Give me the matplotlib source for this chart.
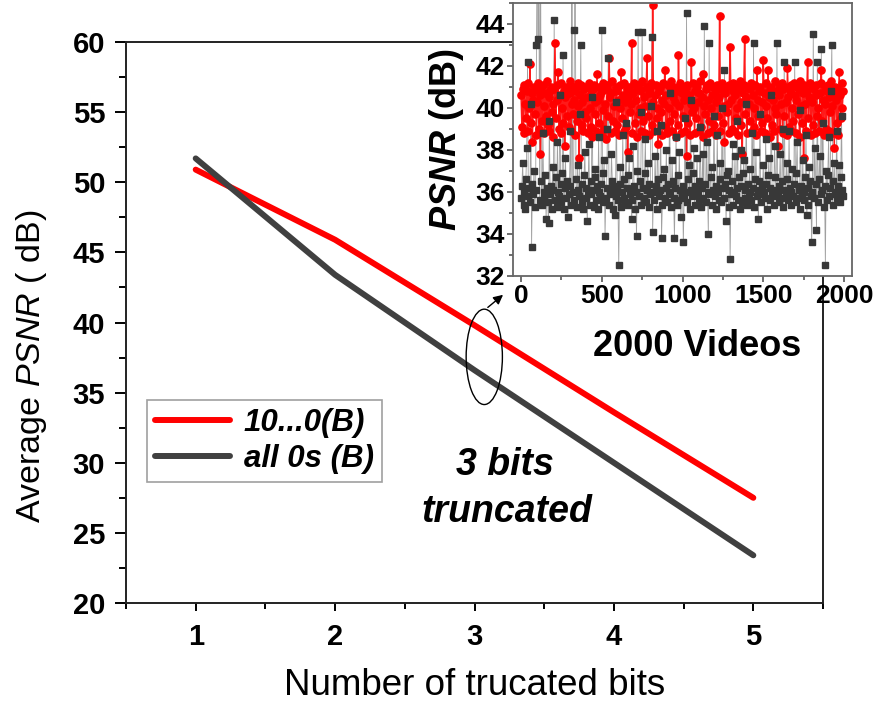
import matplotlib
matplotlib.use("Agg")
import matplotlib.pyplot as plt
from matplotlib.patches import Ellipse
from matplotlib.ticker import MultipleLocator
import numpy as np

plt.rcParams['font.family'] = ['Liberation Sans', 'DejaVu Sans']
plt.rcParams['mathtext.fontset'] = 'custom'
plt.rcParams['mathtext.rm'] = 'Liberation Sans'
plt.rcParams['mathtext.it'] = 'Liberation Sans:italic'
plt.rcParams['mathtext.bf'] = 'Liberation Sans:bold'
plt.rcParams['mathtext.bfit'] = 'Liberation Sans:bold:italic'

# ---- main chart data ----
bits = [1, 2, 3, 4, 5]
psnr_10_0 = [50.9, 45.9, 39.8, 33.6, 27.5]
psnr_all0 = [51.7, 43.4, 36.6, 30.0, 23.4]
labels = ['10...0(B)', 'all 0s (B)']

# ---- inset data (every 5th video) ----
video_step = 5
inset_red = [
    40.6, 39.1, 40.9, 38.8, 41.1, 40.2, 39.5, 40.8, 38.9, 41.2, 40.0, 42.1, 39.3, 40.7, 38.4, 40.4, 41.0, 39.7, 40.9, 38.7,
    40.3, 41.2, 39.0, 40.6, 37.8, 40.9, 39.4, 41.1, 40.1, 38.8, 40.7, 39.6, 41.3, 39.2, 40.5, 38.9, 40.8, 41.0, 39.8, 40.2,
    38.6, 40.9, 43.1, 39.5, 40.4, 41.1, 41.7, 39.0, 40.6, 38.8, 41.2, 40.0, 39.3, 40.8, 38.2, 40.5, 41.0, 39.6, 40.9, 39.1,
    40.7, 41.3, 38.9, 40.2, 39.7, 41.0, 40.4, 38.7, 40.8, 39.4, 41.2, 40.1, 37.6, 40.6, 41.1, 39.2, 40.3, 38.9, 40.9, 39.8,
    41.0, 39.5, 40.5, 38.8, 41.2, 40.0, 39.1, 40.7, 38.6, 40.9, 41.1, 39.7, 40.3, 38.9, 41.6, 40.4, 39.3, 41.0, 40.6, 38.7,
    40.8, 39.9, 41.2, 39.0, 40.2, 38.5, 40.9, 41.1, 39.6, 42.4, 40.5, 38.8, 40.7, 41.3, 39.4, 40.1, 38.9, 40.8, 41.0, 39.2,
    40.4, 38.7, 41.1, 40.0, 41.7, 39.5, 40.6, 38.9, 41.2, 40.3, 39.1, 40.9, 37.9, 40.5, 41.0, 39.8, 40.2, 43.1, 38.8, 40.7,
    41.2, 39.3, 40.4, 38.6, 40.9, 41.1, 39.7, 40.0, 38.9, 40.8, 41.3, 39.4, 40.5, 38.8, 40.1, 41.0, 42.4, 39.6, 40.7, 38.7,
    40.9, 41.2, 39.2, 44.9, 40.3, 38.9, 40.6, 41.1, 39.5, 40.0, 38.3, 40.8, 41.0, 39.8, 40.4, 38.7, 41.2, 40.2, 41.8, 39.1,
    40.6, 38.8, 41.1, 40.0, 39.4, 40.9, 41.3, 38.9, 40.5, 39.7, 41.0, 40.3, 38.6, 40.8, 39.2, 42.5, 40.1, 41.2, 38.8, 40.7,
    39.6, 41.0, 40.4, 38.9, 40.9, 37.7, 41.1, 39.3, 40.6, 38.7, 40.2, 42.2, 39.8, 41.2, 40.0, 38.8, 40.8, 39.5, 41.0, 40.3,
    38.9, 40.7, 41.3, 39.1, 40.5, 38.6, 41.6, 40.1, 39.7, 40.9, 41.1, 38.8, 40.4, 39.4, 41.2, 40.0, 38.9, 40.6, 41.0, 39.2,
    40.8, 38.7, 40.3, 41.1, 39.6, 40.5, 44.4, 38.9, 40.9, 41.2, 39.3, 40.1, 38.4, 40.7, 41.0, 39.8, 40.2, 38.8, 41.1, 42.9,
    40.4, 39.0, 40.8, 41.2, 38.9, 40.6, 39.5, 41.0, 40.0, 38.7, 40.9, 41.3, 39.2, 40.3, 37.8, 40.7, 41.1, 43.3, 39.7, 40.5,
    38.8, 41.0, 40.2, 39.4, 40.9, 41.2, 38.9, 40.6, 39.1, 40.0, 41.1, 38.7, 41.8, 40.4, 39.6, 40.8, 41.0, 38.9, 40.3, 39.3,
    42.3, 40.7, 38.8, 41.2, 40.1, 39.5, 41.8, 40.5, 38.6, 40.9, 41.0, 39.2, 40.4, 38.9, 41.3, 40.0, 39.7, 40.8, 38.2, 41.1,
    40.6, 39.0, 40.2, 41.2, 38.8, 40.9, 39.6, 41.0, 40.3, 38.7, 41.9, 40.5, 39.1, 40.8, 41.1, 38.9, 40.0, 39.4, 41.2, 40.6,
    38.8, 40.4, 41.0, 39.7, 40.9, 38.6, 41.3, 40.1, 39.3, 40.7, 37.6, 41.1, 40.2, 38.9, 40.8, 42.2, 39.5, 40.5, 41.2, 38.7,
    40.3, 41.0, 39.2, 40.9, 38.8, 40.6, 41.1, 39.6, 40.0, 38.9, 40.7, 41.2, 41.8, 39.4, 40.4, 38.7, 41.0, 40.2, 39.0, 40.8,
    41.1, 38.9, 40.5, 39.8, 41.3, 40.1, 38.8, 40.7, 38.1, 41.0, 40.4, 39.3, 40.9, 38.7, 41.7, 40.6, 39.5, 41.2, 40.0, 40.8,
]
inset_dark = [
    35.7, 36.3, 37.4, 35.4, 36.0, 35.2, 36.6, 38.1, 42.2, 35.8, 36.2, 35.5, 40.2, 33.4, 36.4, 35.9, 37.0, 35.3, 36.1, 43.0,
    48.0, 43.3, 47.0, 35.6, 50.0, 36.5, 35.4, 38.8, 36.0, 35.7, 36.8, 34.7, 36.2, 35.5, 34.5, 39.4, 35.9, 36.3, 35.2, 37.2,
    36.1, 44.2, 35.6, 36.7, 35.3, 38.4, 36.0, 35.8, 40.6, 36.4, 35.5, 36.9, 42.5, 35.2, 36.2, 37.6, 35.7, 36.5, 34.8, 35.9,
    36.3, 38.9, 35.4, 46.0, 36.0, 35.6, 43.7, 49.0, 36.6, 35.3, 37.3, 36.1, 35.8, 39.7, 43.0, 35.5, 36.4, 35.2, 36.8, 37.9,
    35.7, 36.2, 34.6, 36.0, 38.3, 35.4, 36.5, 35.9, 40.5, 36.1, 35.3, 36.7, 37.1, 35.6, 36.3, 35.2, 38.6, 36.0, 35.8, 36.4,
    43.7, 35.5, 36.9, 37.5, 33.9, 35.7, 36.2, 39.0, 42.4, 35.4, 36.0, 35.9, 37.8, 36.5, 35.2, 36.3, 34.9, 35.8, 40.3, 36.1,
    35.6, 32.5, 36.4, 37.2, 35.3, 36.0, 38.7, 35.7, 36.6, 35.5, 39.3, 36.2, 35.4, 36.8, 37.6, 35.9, 36.1, 34.7, 35.6, 38.2,
    36.3, 35.2, 36.0, 33.9, 37.0, 43.6, 35.8, 36.5, 35.4, 39.8, 43.6, 36.2, 35.7, 36.9, 38.5, 35.5, 36.1, 37.4, 35.3, 36.4,
    35.9, 40.1, 43.4, 34.1, 36.0, 35.6, 37.7, 36.3, 35.2, 38.9, 36.6, 35.8, 36.1, 39.2, 33.8, 35.4, 36.7, 37.1, 35.7, 36.2,
    38.0, 35.5, 36.4, 35.9, 40.7, 36.0, 35.3, 37.5, 36.5, 35.7, 33.8, 36.2, 38.6, 35.4, 36.8, 35.6, 37.9, 36.1, 34.8, 35.8,
    36.3, 33.6, 35.7, 39.5, 36.0, 44.5, 35.5, 36.6, 37.3, 35.2, 40.4, 36.1, 35.8, 36.9, 38.1, 35.4, 36.3, 35.9, 37.6, 36.0,
    35.6, 36.5, 39.1, 35.3, 36.2, 37.8, 35.7, 43.9, 36.4, 35.5, 38.4, 36.0, 34.0, 43.1, 35.9, 36.7, 37.2, 35.4, 36.1, 39.6,
    35.8, 36.3, 35.2, 38.7, 36.0, 35.6, 37.4, 36.6, 35.5, 40.0, 36.2, 35.7, 41.8, 36.4, 34.6, 36.8, 37.0, 35.3, 36.1, 32.8,
    35.9, 36.5, 38.3, 35.4, 36.0, 37.7, 35.8, 36.2, 39.4, 35.6, 36.7, 35.2, 38.0, 36.3, 35.5, 36.9, 37.5, 35.7, 36.1, 40.2,
    35.4, 36.4, 35.9, 37.1, 36.0, 35.6, 38.8, 36.2, 43.1, 35.3, 36.6, 37.9, 35.8, 36.1, 34.7, 36.5, 39.7, 35.5, 36.3, 35.9,
    37.3, 36.0, 35.7, 38.5, 36.4, 35.2, 36.8, 37.6, 35.6, 36.2, 40.6, 35.9, 36.1, 35.4, 38.2, 36.7, 35.8, 43.1, 36.0, 35.5,
    36.3, 37.8, 35.7, 36.5, 39.0, 35.3, 42.2, 36.1, 35.9, 37.4, 36.6, 35.6, 38.9, 36.2, 35.4, 36.0, 37.1, 35.8, 36.4, 42.2,
    35.5, 36.9, 38.4, 35.7, 36.1, 35.2, 39.9, 36.3, 35.9, 37.5, 36.0, 35.6, 36.7, 38.7, 34.9, 36.2, 35.4, 37.2, 36.5, 35.8,
    33.6, 36.0, 43.5, 35.7, 38.1, 36.4, 34.2, 42.2, 35.5, 36.6, 37.7, 35.9, 42.8, 36.1, 39.3, 35.3, 36.3, 32.5, 37.0, 35.6,
    36.8, 38.6, 35.8, 36.2, 40.8, 43.0, 35.4, 36.5, 37.4, 35.9, 36.0, 38.9, 35.7, 36.3, 37.3, 35.5, 36.7, 39.6, 36.1, 35.8,
]
videos = np.arange(len(inset_red)) * video_step

RED = '#ff0000'
DARK = '#404040'

fig = plt.figure(figsize=(8.78, 7.06), dpi=100)
ax = fig.add_axes([0.1435, 0.1459, 0.7939, 0.7946])

ax.plot(bits, psnr_10_0, color=RED, lw=4.3, solid_capstyle='round', label=labels[0], zorder=3)
ax.plot(bits, psnr_all0, color=DARK, lw=4.3, solid_capstyle='round', label=labels[1], zorder=3)

ax.set_xlim(0.5, 5.5)
ax.set_ylim(20, 60)
ax.xaxis.set_major_locator(MultipleLocator(1))
ax.xaxis.set_minor_locator(MultipleLocator(0.5))
ax.yaxis.set_major_locator(MultipleLocator(5))
ax.yaxis.set_minor_locator(MultipleLocator(2.5))
ax.tick_params(which='major', direction='out', length=8, width=1.4, labelsize=21, pad=7)
ax.tick_params(which='minor', direction='out', length=5, width=1.4)
ax.tick_params(axis='x', which='major', length=5.5, pad=9)
ax.tick_params(axis='x', which='minor', length=4)
for lab in ax.get_xticklabels() + ax.get_yticklabels():
    lab.set_fontweight('bold')
for s in ax.spines.values():
    s.set_linewidth(1.4)
    s.set_color('#222222')

ax.set_xlabel('Number of trucated bits', fontsize=26.5)
ax.set_ylabel(r'Average $\mathit{PSNR}$ ( dB)', fontsize=24.5)
ax.xaxis.set_label_coords(0.5, -0.115)
ax.yaxis.set_label_coords(-0.11, 0.4225)

leg = ax.legend(loc='upper left', bbox_to_anchor=(147/878, 1-400/706), bbox_transform=fig.transFigure,
                borderaxespad=0, frameon=True, fancybox=False, handlelength=2.4, handletextpad=0.45,
                borderpad=0.25, labelspacing=0.2,
                prop={'size': 22.5, 'weight': 'bold', 'style': 'italic'})
leg.get_frame().set_edgecolor('#888888')
leg.get_frame().set_linewidth(1.2)

ax.text(3.22, 29.85, '3 bits', fontsize=27, fontweight='bold', fontstyle='italic', ha='center', va='center')
ax.text(3.23, 26.5, 'truncated', fontsize=27, fontweight='bold', fontstyle='italic', ha='center', va='center')
ax.text(4.60, 38.3, '2000 Videos', fontsize=26, fontweight='bold', ha='center', va='center')

ell = Ellipse((3.07, 37.55), 0.26, 6.8, fill=False, edgecolor='black', lw=1.0, zorder=4)
ax.add_patch(ell)
ax.annotate('', xy=(3.22, 42.1), xytext=(3.08, 40.95),
            arrowprops=dict(arrowstyle='-|>', color='black', lw=1.0, mutation_scale=14), zorder=5)

# ---- inset ----
ins = fig.add_axes([0.5843, 0.6091, 0.3861, 0.3867])
ins.set_facecolor('white')
ins.plot(videos, inset_dark, color='#a0a0a0', lw=0.6, zorder=1)
ins.plot(videos, inset_red, color='#ff1a1a', lw=1.1, marker='o', ms=5.2,
         mfc=RED, mec=RED, zorder=2)
ins.plot(videos, inset_dark, ls='none', marker='s', ms=4.2,
         mfc='#383838', mec='#383838', zorder=3)
ins.set_xlim(-50, 2050)
ins.set_ylim(32, 45)
ins.xaxis.set_major_locator(MultipleLocator(500))
ins.xaxis.set_minor_locator(MultipleLocator(250))
ins.yaxis.set_major_locator(MultipleLocator(2))
ins.yaxis.set_minor_locator(MultipleLocator(1))
ins.tick_params(which='major', direction='out', length=4, width=1.2, labelsize=19, pad=2,
                colors='#555555', labelcolor='black')
ins.tick_params(which='minor', direction='out', length=3, width=1.2, colors='#555555')
for lab in ins.get_xticklabels() + ins.get_yticklabels():
    lab.set_fontweight('bold')
for s in ins.spines.values():
    s.set_color('#666666')
    s.set_linewidth(1.3)
ins.set_ylabel(r'$\mathbfit{PSNR}$ (dB)', fontsize=26, fontweight='bold')
ins.yaxis.set_label_coords(-0.14, 0.5)

fig.savefig('out.png', dpi=100)
